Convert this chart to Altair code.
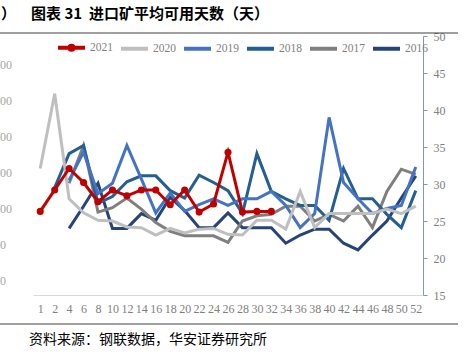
import altair as alt
import pandas as pd

weeks = ["1", "2", "4", "6", "8", "10", "12", "14", "16", "18", "20", "22", "24", "26",
         "28", "30", "32", "34", "36", "38", "40", "42", "44", "46", "48", "50", "52"]

s2021 = [26.3, 29.2, 32.1, 30.2, 27.6, 29.2, 28.4, 29.2, 29.2, 27.2, 29.2, 26.2, 27.3, 34.3,
         26.2, 26.3, 26.3, None, None, None, None, None, None, None, None, None, None]
s2020 = [32.1, 42.2, 28.0, 26.1, 25.1, 25.0, 24.2, 24.1, 23.1, 24.0, 23.4, 23.9, 24.0, 23.2,
         23.1, 25.1, 25.1, 23.9, 29.0, 24.1, 26.0, 26.0, 26.0, 26.0, 26.6, 26.0, 27.0]
s2019 = [None, None, 30.5, 34.3, 28.7, 30.1, 35.2, 30.7, 26.1, 28.8, 26.3, 27.2, 28.0, 27.1,
         28.0, 28.0, 29.0, 27.1, 24.1, 26.0, 39.0, 30.2, 28.0, 26.0, 26.7, 27.1, 32.3]
s2018 = [None, 29.5, 34.1, 35.2, 27.4, 28.3, 30.3, 31.1, 31.1, 29.1, 28.1, 31.2, 30.2, 29.1,
         26.0, 34.1, 29.0, 28.0, 27.1, 27.1, 25.1, 32.1, 28.0, 28.0, 25.9, 24.1, 29.1]
s2017 = [None, None, 30.1, 35.2, 26.2, 26.8, 28.1, 26.6, 24.8, 23.6, 23.0, 23.0, 23.0, 22.1,
         25.0, 25.7, 25.9, 27.0, 27.0, 25.0, 25.9, 25.0, 27.0, 24.1, 29.0, 32.0, 31.3]
s2016 = [None, None, 24.0, 27.0, 30.1, 24.0, 24.0, 26.0, 25.1, 28.2, 26.4, 24.1, 24.1, 26.1,
         24.1, 24.1, 24.1, 22.0, 23.1, 23.9, 23.9, 22.0, 21.1, 23.1, 25.0, 28.1, 31.1]

series_names = ["2021", "2020", "2019", "2018", "2017", "2016"]
series_vals = [s2021, s2020, s2019, s2018, s2017, s2016]
colors = ["#C00000", "#BFBFBF", "#4472C4", "#255E91", "#7F7F7F", "#264478"]

y_ticks = [15, 20, 25, 30, 35, 40, 45, 50]
left_cut_labels = ["00", "00", "00", "00", "00", "0", "0"]

title_text = "图表 31\u00a0\u00a0进口矿平均可用天数（天）"
source_text = "资料来源：钢联数据，华安证券研究所"

rows = []
for name, vals in reversed(list(zip(series_names, series_vals))):
    for idx, (w, v) in enumerate(zip(weeks, vals)):
        if v is not None:
            rows.append({"week": w, "idx": idx, "year": name, "value": v})
df = pd.DataFrame(rows)
df21 = df[df["year"] == "2021"]

x_enc = alt.X("week:O", sort=weeks, scale=alt.Scale(type="point", padding=0.5),
              axis=alt.Axis(title=None, labelAngle=0, ticks=False, domainColor="#d9d9d9",
                            domainWidth=1, labelFont="Liberation Serif", labelFontSize=12,
                            labelColor="#7f7f7f", labelPadding=8))
y_enc = alt.Y("value:Q", scale=alt.Scale(domain=[15, 50], nice=False, zero=False),
              axis=alt.Axis(orient="right", title=None, values=y_ticks, grid=False,
                            domainColor="#8497b0", tickColor="#8497b0", tickSize=4,
                            labelPadding=6, labelFont="Liberation Serif", labelFontSize=12,
                            labelColor="#808080"))

legend = alt.Legend(
    title=None, orient="none", legendX=23, legendY=-4, direction="horizontal", columns=6,
    symbolType={"expr": "datum.value === '2021' ? 'M-1,0L1,0M0.15,0A0.15,0.15,0,1,1,-0.15,0A0.15,0.15,0,1,1,0.15,0' : 'stroke'"},
    symbolSize=729, symbolStrokeWidth=4,
    labelFont="Liberation Serif", labelFontSize=11.5, labelColor="#7f7f7f",
    labelOffset=3, columnPadding=0, padding=0,
)

lines = alt.Chart(df).mark_line(strokeWidth=3).encode(
    x=x_enc, y=y_enc,
    color=alt.Color("year:N", scale=alt.Scale(domain=series_names, range=colors), legend=legend),
    order=alt.Order("idx:Q"),
)
points = alt.Chart(df21).mark_circle(size=50, opacity=1, color="#C00000").encode(x=x_enc, y=y_enc)

dummy = alt.Data(values=[{"a": 1}])


def txt(text, x, y, **kw):
    return alt.Chart(dummy).mark_text(text=text, align="left", baseline="middle", **kw).encode(
        x=alt.value(x), y=alt.value(y))


def hrule(y, x1, x2, color="#404040"):
    return alt.Chart(dummy).mark_rule(color=color, strokeWidth=1).encode(
        x=alt.value(x1), x2=alt.value(x2), y=alt.value(y))


extras = [
    txt(title_text, -2, -22, font="Noto Sans CJK SC", fontSize=15, fontWeight="bold", color="#000000"),
    txt("）", -32, -22, font="Noto Sans CJK SC", fontSize=15, fontWeight="bold", color="#000000"),
    hrule(-3, -33, 425),
    hrule(288, -33, 425),
    txt(source_text, -4, 304, font="Noto Sans CJK SC", fontSize=14, color="#000000"),
]
for k, lab in enumerate(left_cut_labels):
    extras.append(txt(lab, -33, 29 + 36 * k, font="Liberation Serif", fontSize=12, color="#a6a6a6"))

chart = alt.layer(lines, points, *extras).properties(
    width=390, height=259,
    autosize=alt.AutoSizeParams(type="none"),
    padding={"left": 33, "top": 36, "right": 41, "bottom": 59},
).configure_view(stroke=None)

chart.save("out.html", embed_options={"renderer": "svg", "actions": False})
